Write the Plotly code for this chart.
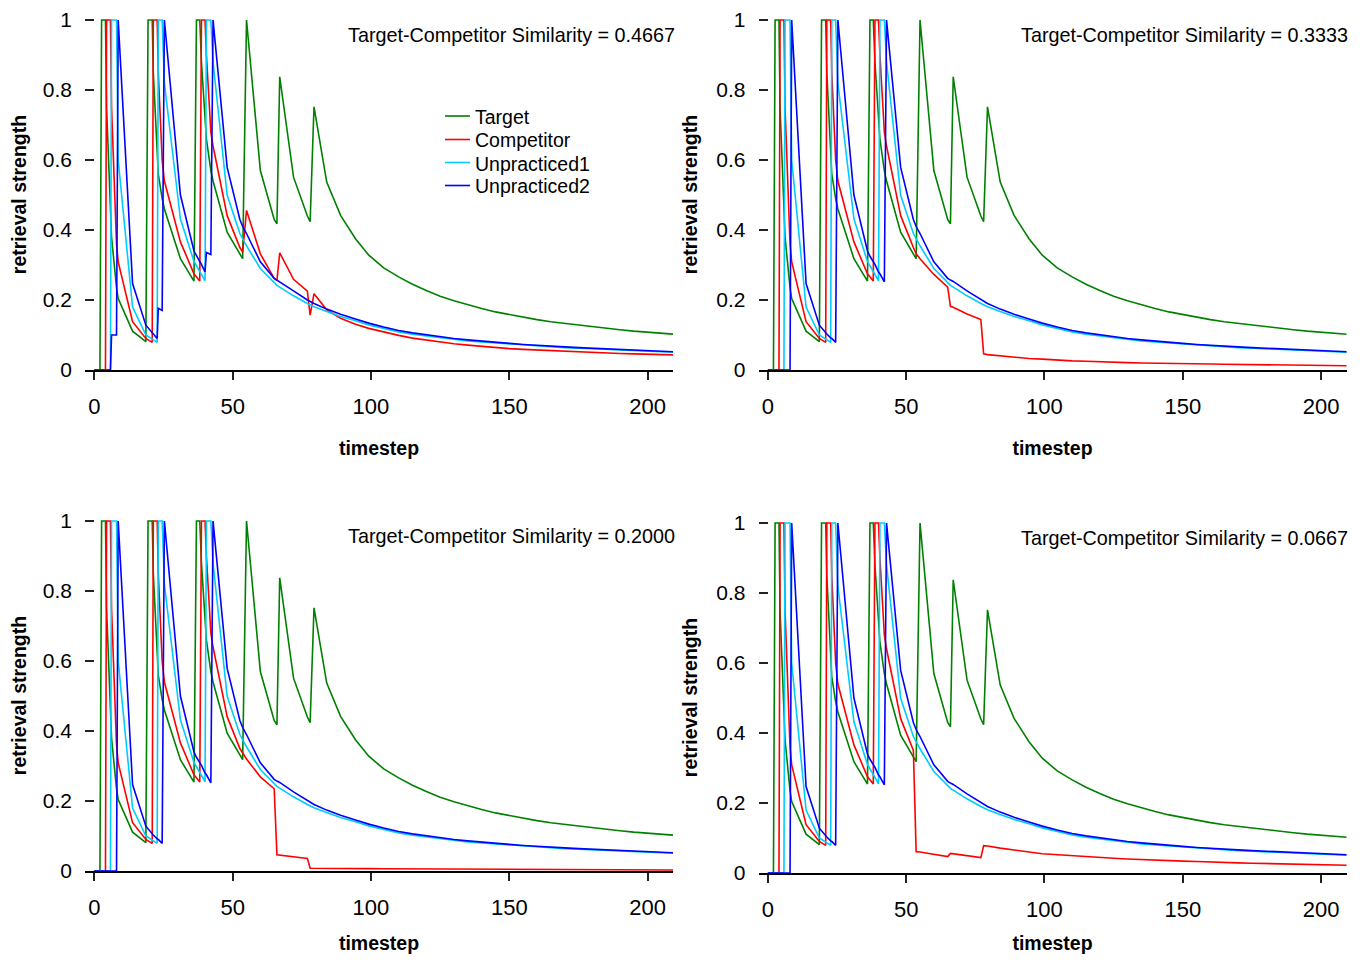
import plotly.graph_objects as go

# ---------------- data ----------------
timestep = [0, 2.0, 2.6, 4.0, 4.4, 5.8, 6.2, 8.0, 8.6, 13.8, 18.6, 19.4, 20.9, 21.3, 22.7,
            23.1, 24.5, 25.3, 31.1, 36.0, 36.9, 38.1, 38.7, 40.0, 40.5, 42.1, 42.9, 48.0,
            52.6, 53.6, 55.0, 60.0, 65.0, 66.0, 67.0, 72.0, 77.0, 78.0, 79.4, 84.0, 89.0,
            94.4, 99.2, 104.6, 110, 115, 120, 125, 130, 135, 140, 145, 150, 155, 160, 165,
            170, 175, 180, 185, 190, 195, 200, 205, 210]

target = [0, 0, 1, 1, 0.75, 0.42, 0.38, 0.235, 0.204, 0.111, 0.081, 1, 1, 0.85, 0.6,
          0.56, 0.49, 0.46, 0.318, 0.254, 1, 1, 0.88, 0.7, 0.66, 0.57, 0.54, 0.394,
          0.33, 0.318, 1, 0.57, 0.43, 0.418, 0.838, 0.551, 0.44, 0.424, 0.752, 0.537, 0.442,
          0.375, 0.328, 0.292, 0.266, 0.245, 0.227, 0.211, 0.198, 0.186, 0.176, 0.166,
          0.158, 0.151, 0.144, 0.138, 0.133, 0.128, 0.123, 0.119, 0.115, 0.111, 0.108,
          0.105, 0.102]

unpracticed1 = [0, 0, 0, 0, 0, 0, 1, 1, 0.6, 0.18, 0.1, 0.096, 0.088, 0.086, 0.079,
                1, 1, 0.82, 0.432, 0.31, 0.298, 0.283, 0.276, 0.255, 1, 1, 0.88, 0.499,
                0.39, 0.375, 0.355, 0.29, 0.248, 0.242, 0.237, 0.212, 0.19, 0.186, 0.181,
                0.167, 0.153, 0.141, 0.129, 0.119, 0.109, 0.102, 0.097, 0.092, 0.087,
                0.083, 0.08, 0.077, 0.074, 0.071, 0.069, 0.066, 0.064, 0.062, 0.06, 0.058,
                0.057, 0.055, 0.054, 0.052, 0.051]

unpracticed2 = [0, 0, 0, 0, 0, 0, 0, 0, 1, 0.247, 0.128, 0.12, 0.106, 0.103, 0.092,
                0.09, 0.079, 1, 0.5, 0.34, 0.325, 0.31, 0.302, 0.28, 0.275, 0.252, 1,
                0.579, 0.43, 0.41, 0.39, 0.309, 0.262, 0.257, 0.253, 0.226, 0.2, 0.196,
                0.19, 0.174, 0.159, 0.146, 0.134, 0.123, 0.113, 0.106, 0.1, 0.095, 0.09,
                0.086, 0.082, 0.079, 0.076, 0.073, 0.07, 0.068, 0.066, 0.064, 0.062, 0.06,
                0.058, 0.057, 0.055, 0.054, 0.052]

# Unpracticed2 in the 0.4667 panel (gets a little activation while Unpracticed1 is studied)
unpracticed2_sim4667 = [0, 0, 0, 0, 0, 0, 0.1, 0.1, 1, 0.247, 0.128, 0.12, 0.106, 0.103,
                        0.09, 0.176, 0.17, 1, 0.5, 0.34, 0.325, 0.31, 0.302, 0.28, 0.336,
                        0.33, 1, 0.579, 0.43, 0.41, 0.39, 0.309, 0.262, 0.257, 0.253,
                        0.226, 0.2, 0.196, 0.19, 0.174, 0.159, 0.146, 0.134, 0.123, 0.113,
                        0.106, 0.1, 0.095, 0.09, 0.086, 0.082, 0.079, 0.076, 0.073, 0.07,
                        0.068, 0.066, 0.064, 0.062, 0.06, 0.058, 0.057, 0.055, 0.054, 0.052]

# competitor during the study phase (same in all panels), timesteps 0 .. 52.6
competitor_study = [0, 0, 0, 0, 1, 1, 0.75, 0.36, 0.309, 0.138, 0.09, 0.086, 0.079, 1, 1,
                    0.85, 0.6, 0.54, 0.366, 0.275, 0.265, 0.254, 1, 1, 0.9, 0.68, 0.64,
                    0.441, 0.35]

# competitor during/after retrieval practice, timesteps 53.6 .. 210
competitor_sim4667 = [0.337, 0.456, 0.332, 0.262, 0.256, 0.335, 0.259, 0.225, 0.157, 0.218,
                      0.172, 0.148, 0.131, 0.119, 0.108, 0.099, 0.091, 0.085, 0.079, 0.075,
                      0.071, 0.067, 0.064, 0.061, 0.059, 0.057, 0.055, 0.053, 0.051, 0.05,
                      0.048, 0.047, 0.046, 0.045, 0.044, 0.043]
competitor_sim3333 = [0.332, 0.318, 0.273, 0.237, 0.182, 0.179, 0.16, 0.144, 0.046, 0.044,
                      0.04, 0.036, 0.033, 0.031, 0.028, 0.026, 0.025, 0.023, 0.022, 0.021,
                      0.02, 0.019, 0.0185, 0.018, 0.0175, 0.017, 0.0165, 0.016, 0.0155,
                      0.015, 0.0145, 0.014, 0.0135, 0.013, 0.0125, 0.012]
competitor_sim2000 = [0.337, 0.32, 0.269, 0.235, 0.046, 0.045, 0.04, 0.036, 0.008, 0.0078,
                      0.0075, 0.0072, 0.007, 0.0067, 0.0064, 0.0062, 0.0058, 0.0055, 0.0052,
                      0.005, 0.0047, 0.0045, 0.0043, 0.0041, 0.004, 0.0038, 0.0037, 0.0035,
                      0.0034, 0.0033, 0.0032, 0.0031, 0.003, 0.0029, 0.0028, 0.0027]
competitor_sim0667 = [0.061, 0.06, 0.053, 0.047, 0.056, 0.055, 0.05, 0.044, 0.078, 0.077,
                      0.071, 0.065, 0.06, 0.055, 0.052, 0.049, 0.046, 0.044, 0.042, 0.04,
                      0.038, 0.036, 0.035, 0.034, 0.033, 0.031, 0.03, 0.029, 0.028, 0.027,
                      0.026, 0.025, 0.024, 0.023, 0.022, 0.022]

similarity_labels = ["0.4667", "0.3333", "0.2000", "0.0667"]
x_ticks = [0, 50, 100, 150, 200]
y_ticks = [0, 0.2, 0.4, 0.6, 0.8, 1]
y_tick_text = ["0", "0.2", "0.4", "0.6", "0.8", "1"]
series_names = ["Target", "Competitor", "Unpracticed1", "Unpracticed2"]
series_colors = ["rgb(0,128,0)", "rgb(255,0,0)", "rgb(0,204,255)", "rgb(0,0,255)"]

# ---------------- layout helpers (pixel -> paper) ----------------
W, H, OFF = 1349, 946, 8


def pxx(x):
    return (x - OFF) / W


def pxy(y):
    return 1 - (y - OFF) / H


panels = [
    dict(x0=85, x1=673, y0=19, y1=370, comp=competitor_sim4667, u2=unpracticed2_sim4667),
    dict(x0=758.5, x1=1346.5, y0=19, y1=370, comp=competitor_sim3333, u2=unpracticed2),
    dict(x0=85, x1=673, y0=520, y1=871, comp=competitor_sim2000, u2=unpracticed2),
    dict(x0=758.5, x1=1346.5, y0=522, y1=873, comp=competitor_sim0667, u2=unpracticed2),
]

FONT = "Arial, Liberation Sans, sans-serif"
fig = go.Figure()
annotations = []
shapes = []

for i, p in enumerate(panels):
    sfx = "" if i == 0 else str(i + 1)
    xa, ya = "x" + sfx, "y" + sfx
    series = [target, competitor_study + p["comp"], unpracticed1, p["u2"]]
    for name, color, vals in zip(series_names, series_colors, series):
        fig.add_trace(go.Scatter(
            x=timestep, y=vals, mode="lines", name=name,
            line=dict(color=color, width=1.6),
            xaxis=xa, yaxis=ya, showlegend=False, legendgroup=name,
            hoverinfo="skip"))
    fig.update_layout(**{
        "xaxis" + sfx: dict(
            domain=[pxx(p["x0"]), pxx(p["x1"])], anchor=ya, range=[-3.4, 209.2],
            tickmode="array", tickvals=x_ticks, ticks="outside", ticklen=8,
            tickwidth=1.5, tickcolor="#222", showline=True, linecolor="black",
            linewidth=1.5, showgrid=False, zeroline=False, automargin=False,
            tickfont=dict(family=FONT, size=22, color="black"), ticklabelstandoff=8,
            title=dict(text="timestep", standoff=23,
                       font=dict(family=FONT, size=19.5, color="black", weight="bold"))),
        "yaxis" + sfx: dict(
            domain=[pxy(p["y1"]), pxy(p["y0"])], anchor=xa, range=[0, 1.003],
            tickmode="array", tickvals=y_ticks, ticktext=y_tick_text, ticks="inside",
            ticklen=9, tickwidth=1.5, tickcolor="#222", showline=False,
            showgrid=False, zeroline=False, automargin=False,
            tickfont=dict(family=FONT, size=21, color="black"), ticklabelstandoff=12,
            title=dict(text="retrieval strength", standoff=13,
                       font=dict(family=FONT, size=19.5, color="black", weight="bold"))),
    })
    annotations.append(dict(
        text="Target-Competitor Similarity = " + similarity_labels[i],
        xref="paper", yref="paper", x=pxx(p["x1"] + 3.5), y=pxy(p["y0"] + 16),
        xanchor="right", yanchor="middle", showarrow=False,
        font=dict(family=FONT, size=19.8, color="black")))

# legend drawn inside the first panel
legend_rows_y = [116, 139.5, 162.5, 185.5]
for name, color, ly in zip(series_names, series_colors, legend_rows_y):
    shapes.append(dict(type="line", xref="paper", yref="paper",
                       x0=pxx(445), x1=pxx(470), y0=pxy(ly), y1=pxy(ly),
                       line=dict(color=color, width=1.6)))
    annotations.append(dict(text=name, xref="paper", yref="paper",
                            x=pxx(473), y=pxy(ly + 1), xanchor="left", yanchor="middle",
                            showarrow=False,
                            font=dict(family=FONT, size=19.5, color="black")))

fig.update_layout(
    width=W, height=H, autosize=False,
    margin=dict(l=0, r=0, t=0, b=0, pad=0),
    paper_bgcolor="white", plot_bgcolor="white",
    annotations=annotations, shapes=shapes,
    showlegend=False,
    font=dict(family=FONT),
)

fig.write_html("out.html")
